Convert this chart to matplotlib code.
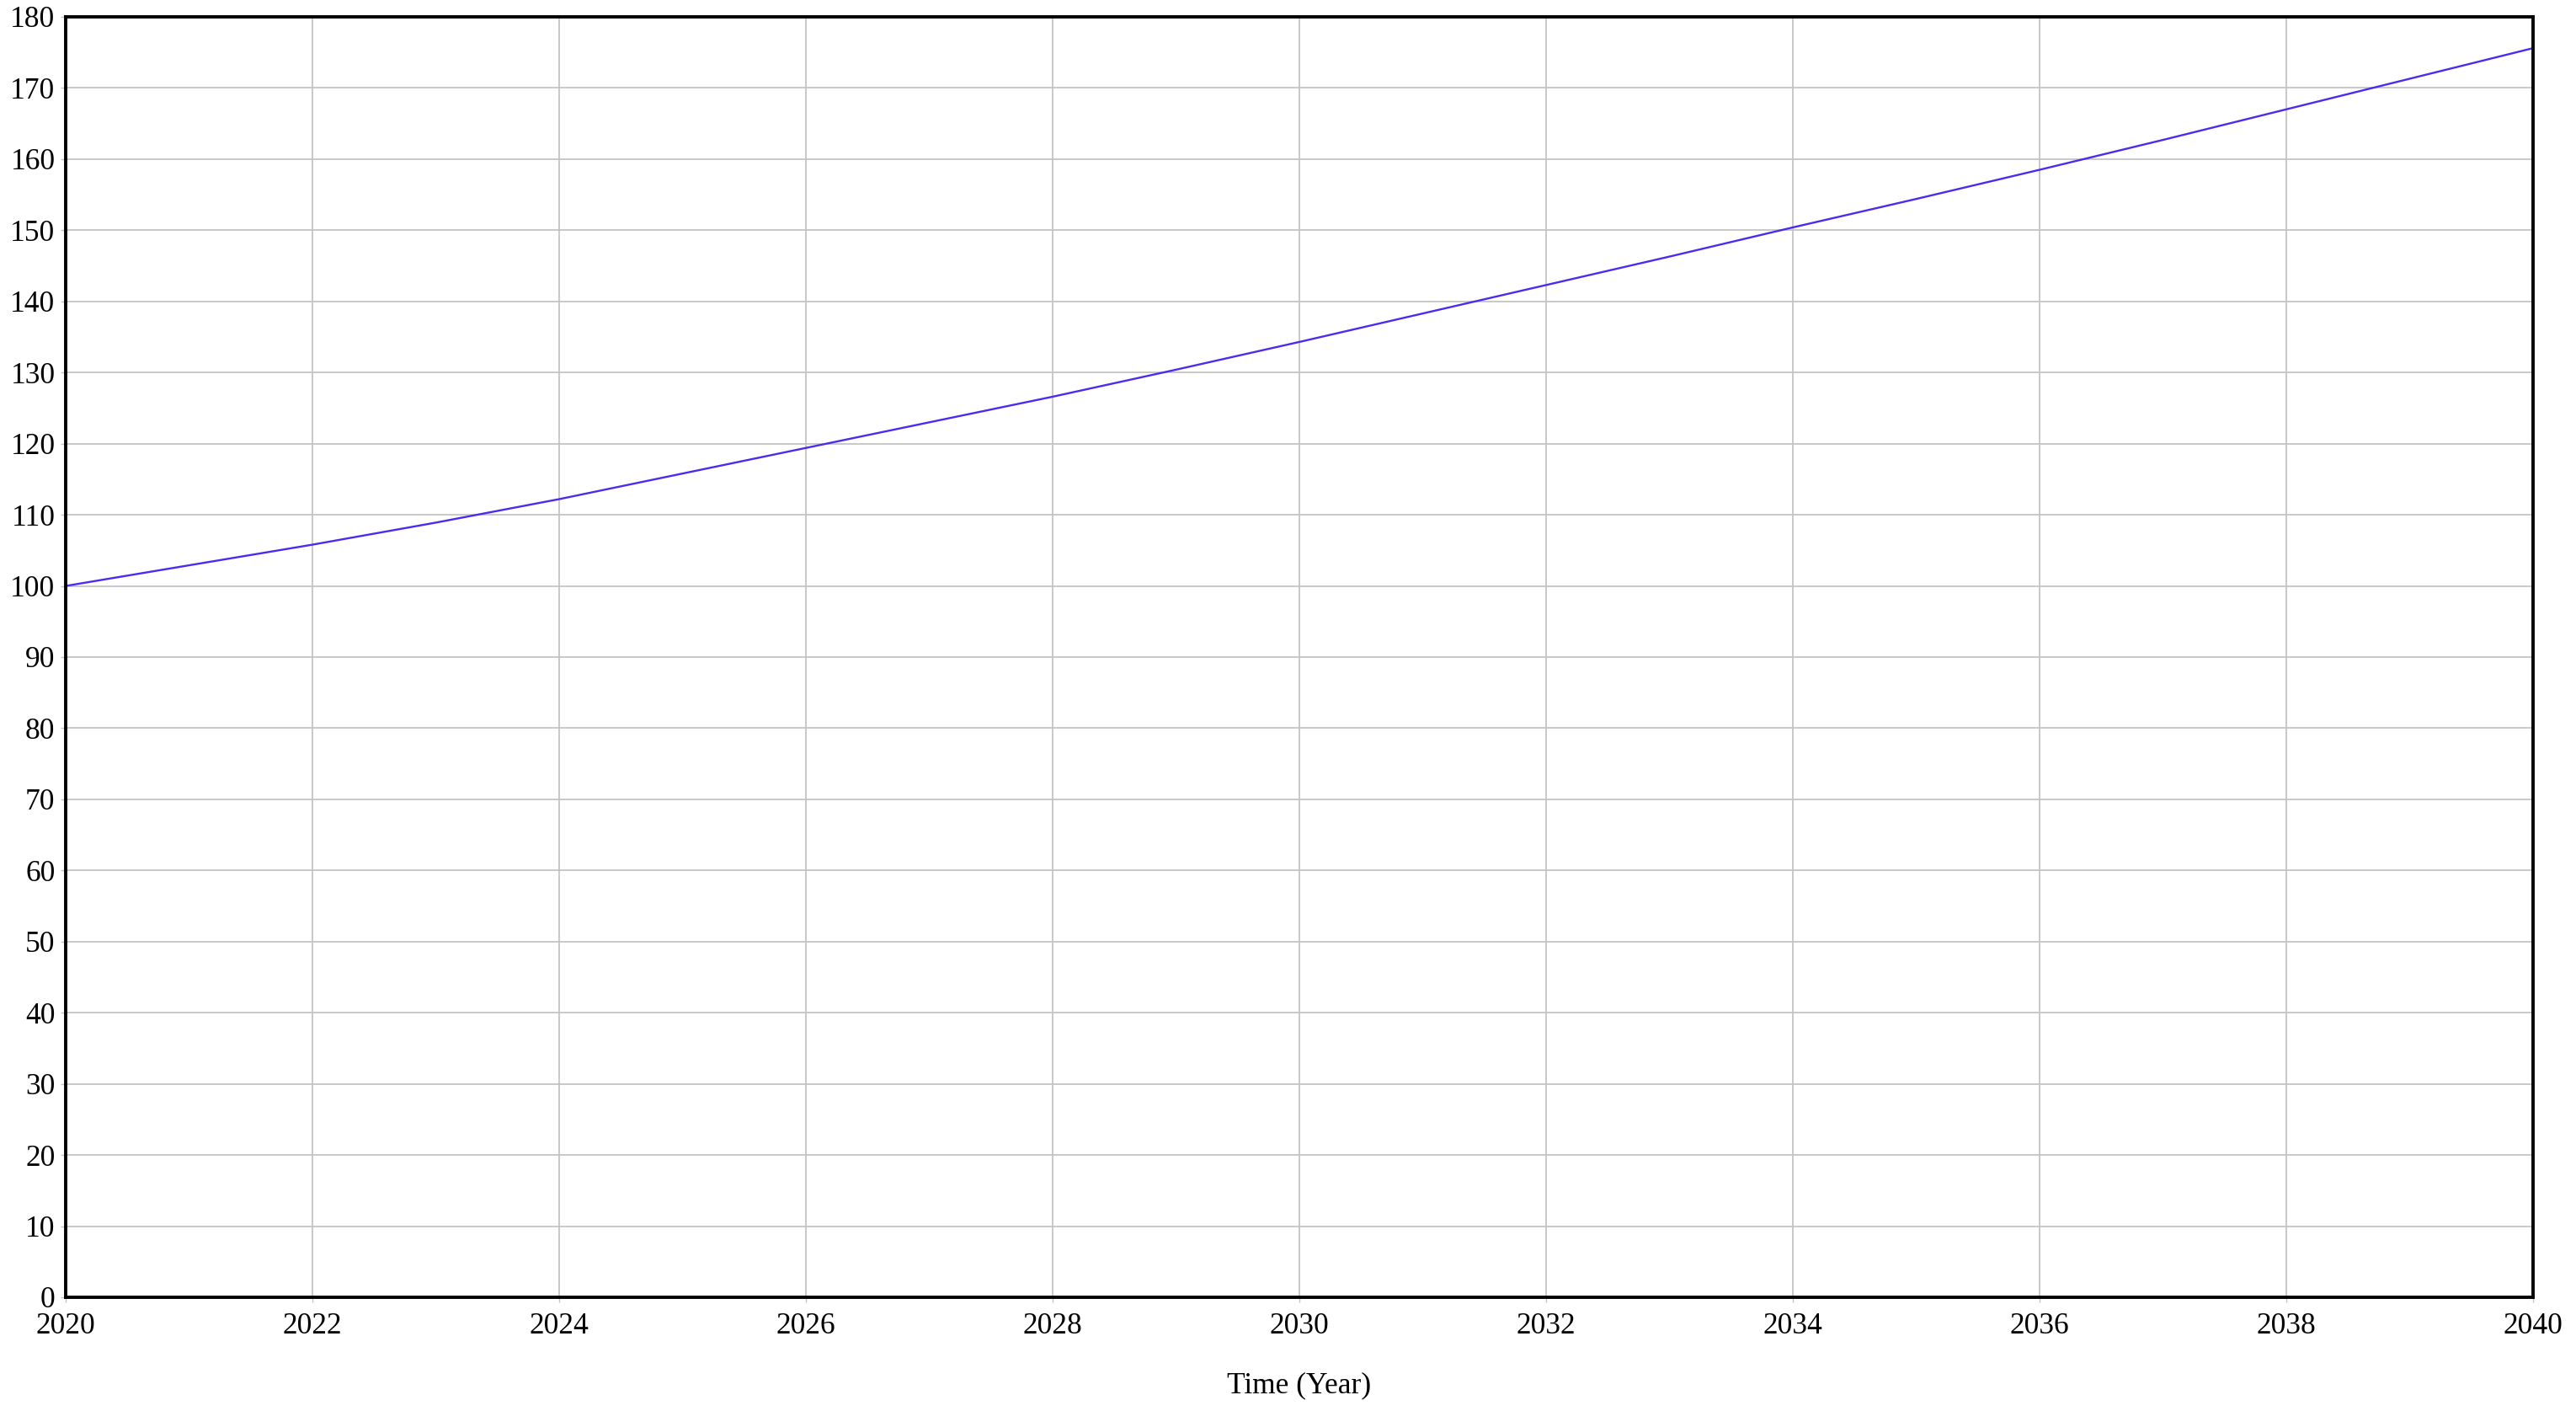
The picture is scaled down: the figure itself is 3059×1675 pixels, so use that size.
import numpy as np
import matplotlib.pyplot as plt

# values (one per year)
years = [2020, 2021, 2022, 2023, 2024, 2025, 2026, 2027, 2028, 2029, 2030,
         2031, 2032, 2033, 2034, 2035, 2036, 2037, 2038, 2039, 2040]
values = [100.0, 102.9, 105.8, 108.9, 112.2, 115.8, 119.4, 123.0, 126.6, 130.4, 134.3,
          138.3, 142.3, 146.3, 150.4, 154.4, 158.5, 162.7, 167.0, 171.3, 175.6]

x_ticks = list(range(2020, 2041, 2))
y_ticks = list(range(0, 181, 10))

plt.rcParams['font.family'] = ['Liberation Serif', 'DejaVu Serif']

fig = plt.figure(figsize=(30.59, 16.75), dpi=100)
ax = fig.add_axes([78 / 3059, 135 / 1675, (3008 - 78) / 3059, (1540 - 20) / 1675])

ax.plot(years, values, color='#4a2cf0', linewidth=1.7)

ax.set_xlim(2020, 2040)
ax.set_ylim(0, 180)
ax.set_xticks(x_ticks)
ax.set_yticks(y_ticks)
ax.grid(True, color='#c4c4c4', linewidth=1.3)
ax.tick_params(axis='both', length=4, width=1.0, color='#c4c4c4', labelsize=25.5, labelcolor='black')
ax.tick_params(axis='x', pad=9)
ax.tick_params(axis='y', pad=5)

for s in ax.spines.values():
    s.set_linewidth(2.8)
    s.set_color('black')

ax.set_xlabel('Time (Year)', fontsize=25.5, labelpad=27)

fig.savefig('out.png', dpi=100, facecolor='white')
